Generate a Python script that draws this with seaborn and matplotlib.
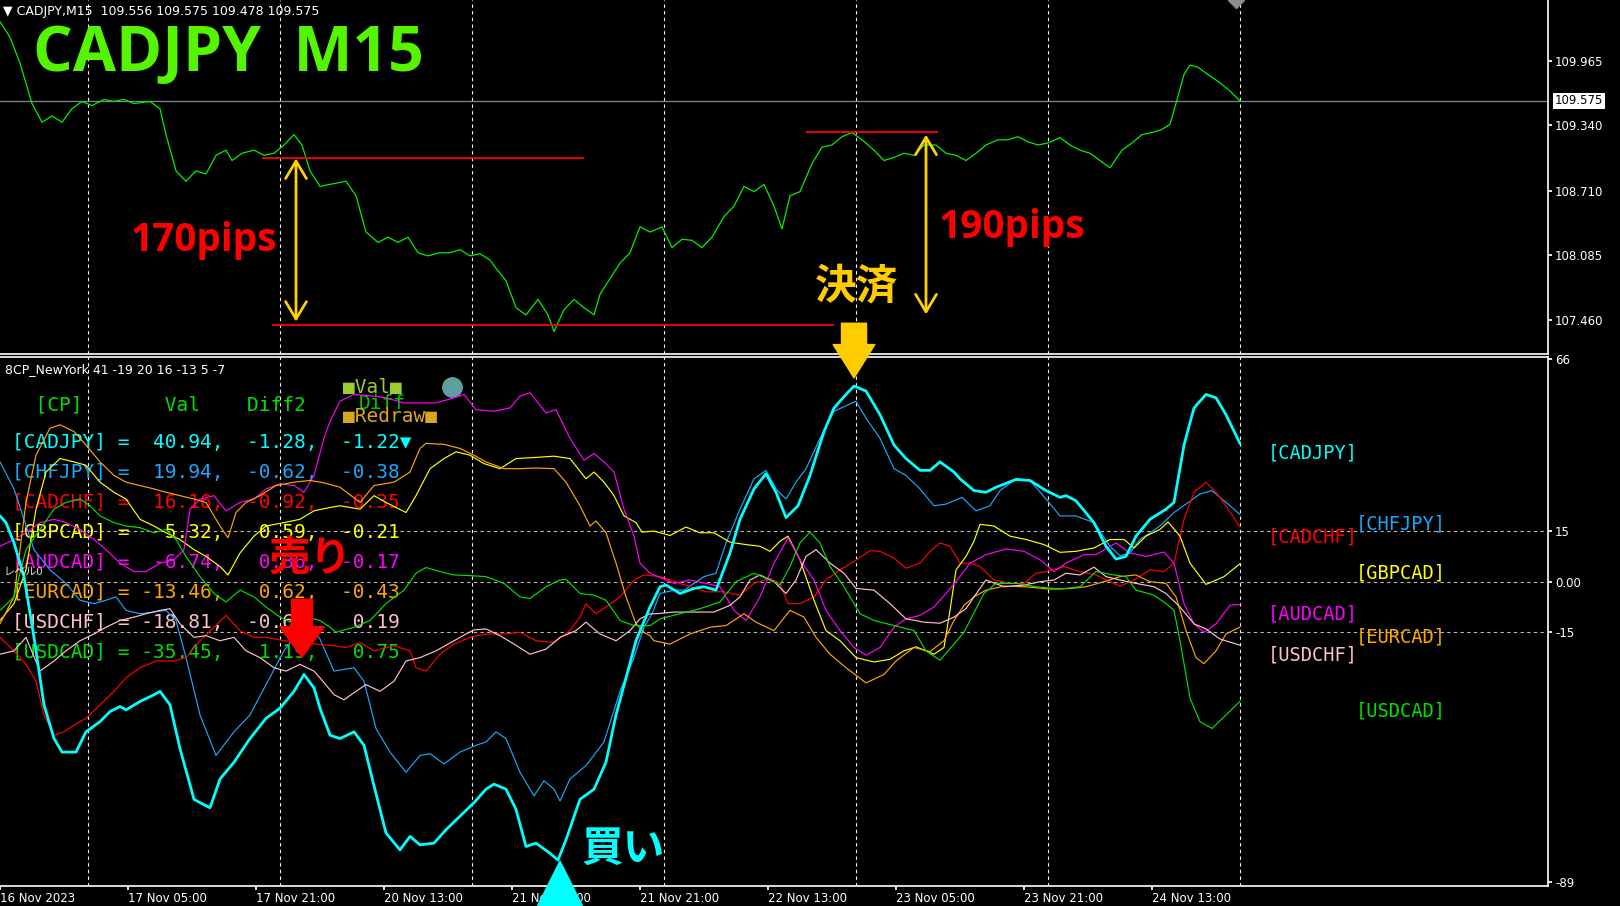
import pandas as pd
import seaborn as sns
import matplotlib.pyplot as plt
from matplotlib.transforms import blended_transform_factory

sns.set_theme(style="dark")
plt.rcParams['font.family'] = ['DejaVu Sans', 'Noto Sans CJK JP']

# x axis counted in M15 bars from 16 Nov 2023 13:00
tick_bars = [0, 64, 128, 192, 256, 320, 384, 448, 512, 576]
tick_labels = ['16 Nov 2023', '17 Nov 05:00', '17 Nov 21:00', '20 Nov 13:00', '21 Nov 05:00',
               '21 Nov 21:00', '22 Nov 13:00', '23 Nov 05:00', '23 Nov 21:00', '24 Nov 13:00']
day_bars = [44, 140, 236, 332, 428, 524, 620]

# upper pane: CADJPY M15 close
price_ticks = [109.965, 109.340, 108.710, 108.085, 107.460]
last_price = 109.575
price_path = [
    (0, 110.34), (5, 110.19), (10, 109.94), (16, 109.55), (21, 109.37), (26, 109.43), (31, 109.37),
    (36, 109.50), (41, 109.57), (46, 109.53), (52, 109.59), (57, 109.57), (62, 109.59), (67, 109.55),
    (75, 109.57), (80, 109.50), (83, 109.25), (88, 108.90), (93, 108.80), (98, 108.90), (103, 108.87),
    (108, 109.05), (113, 109.10), (116, 109.00), (121, 109.07), (127, 109.10), (132, 109.05),
    (137, 109.07), (142, 109.15), (147, 109.25), (151, 109.15), (155, 108.90), (160, 108.75),
    (165, 108.77), (173, 108.80), (178, 108.66), (183, 108.31), (189, 108.21), (194, 108.26),
    (199, 108.21), (204, 108.26), (209, 108.11), (214, 108.08), (220, 108.11), (225, 108.11),
    (230, 108.14), (235, 108.08), (240, 108.10), (245, 108.04), (248, 107.96), (253, 107.84),
    (258, 107.58), (263, 107.51), (269, 107.66), (274, 107.51), (277, 107.35), (282, 107.56),
    (287, 107.66), (292, 107.58), (297, 107.51), (300, 107.71), (305, 107.86), (310, 108.01),
    (315, 108.11), (320, 108.36), (325, 108.31), (331, 108.36), (336, 108.16), (341, 108.24),
    (346, 108.23), (351, 108.16), (356, 108.26), (362, 108.46), (367, 108.56), (372, 108.75),
    (377, 108.70), (382, 108.77), (387, 108.56), (391, 108.34), (395, 108.66), (400, 108.70),
    (406, 108.97), (411, 109.13), (416, 109.15), (421, 109.23), (426, 109.27), (431, 109.20),
    (437, 109.10), (442, 109.00), (447, 109.03), (452, 109.07), (457, 109.05), (462, 109.15),
    (468, 109.15), (473, 109.07), (478, 109.05), (483, 109.00), (488, 109.07), (493, 109.15),
    (499, 109.20), (504, 109.20), (509, 109.23), (514, 109.18), (519, 109.15), (524, 109.17),
    (530, 109.22), (535, 109.15), (540, 109.10), (545, 109.07), (550, 109.00), (555, 108.93),
    (561, 109.10), (566, 109.17), (571, 109.25), (576, 109.27), (581, 109.30), (585, 109.35),
    (588, 109.55), (592, 109.83), (595, 109.92), (599, 109.90), (604, 109.83), (610, 109.75),
    (615, 109.67), (620, 109.575)]

# lower pane: 8CP currency pair strength
cs_ticks = [66, 15, 0, -15, -89]
cs_tick_labels = ['66', '15', '0.00', '-15', '-89']
levels = [15, 0, -15]

cadjpy = [
    (0, 19.5), (3, 17.5), (7, 11.5), (12, 1.5), (17, -16.5), (22, -36.5), (27, -46.5), (31, -50.5),
    (38, -50.5), (43, -44.5), (50, -41.5), (55, -38.5), (60, -37), (63, -38), (70, -35.5), (77, -33.5),
    (80, -32.5), (85, -36.5), (90, -49.5), (97, -64.5), (100, -65.5), (105, -67), (110, -58.5),
    (117, -53.5), (125, -46.5), (133, -40.5), (140, -37.5), (147, -32.5), (152, -27.5), (157, -31.5),
    (160, -37.5), (165, -45.5), (170, -46.5), (177, -44.5), (182, -48.5), (187, -60.5), (193, -74.5),
    (200, -79.5), (205, -75.5), (210, -78), (217, -77.5), (223, -73.5), (230, -69.5), (237, -65.5),
    (243, -61.5), (247, -60), (253, -61.5), (258, -67.5), (263, -78.5), (268, -77.5), (275, -80.5),
    (279, -82.5), (283, -76.5), (290, -64.5), (297, -61.5), (303, -53.5), (308, -39.5), (313, -28.5),
    (318, -17.5), (325, -7.5), (330, -1.5), (333, -1), (340, -3.5), (347, -2), (352, -1.5),
    (358, -2.5), (365, 8.5), (370, 18.5), (377, 27.5), (383, 32), (388, 26.5), (393, 19), (399, 22.5),
    (405, 31.5), (412, 44.5), (417, 51.5), (423, 55.5), (427, 58), (433, 56.5), (440, 49.5),
    (447, 40.5), (453, 36.5), (460, 33), (465, 33), (470, 35.5), (477, 32.5), (480, 30.5), (487, 27),
    (493, 26.5), (498, 28), (508, 30.3), (515, 30), (523, 27), (530, 25), (533, 25.5), (538, 24),
    (547, 17.5), (553, 10.5), (558, 6.7), (563, 7.5), (568, 13.5), (575, 18.5), (583, 21.5),
    (587, 23.5), (592, 40.5), (597, 51.5), (603, 55.5), (608, 54.5), (613, 49.5), (620, 40.94)]
chfjpy = [
    (0, 35.5), (7, 27.5), (12, 18.5), (17, 9.5), (25, 3.5), (33, -0.5), (40, -5.5), (47, -6.5),
    (53, -5.5), (58, -4.5), (63, -8.5), (70, -9.5), (77, -9), (83, -8.5), (88, -11.5), (93, -22.5),
    (100, -39.5), (108, -51.5), (117, -44.5), (125, -39.5), (133, -30.5), (142, -20.5), (147, -16.5),
    (153, -11.5), (160, -17), (167, -26.5), (177, -25.5), (182, -29.5), (188, -43.5), (195, -50.5),
    (203, -56.5), (210, -51.5), (215, -51), (222, -54), (230, -50.5), (238, -48.5), (243, -47.5),
    (248, -44.5), (253, -46.5), (260, -56.5), (267, -63.5), (272, -59), (277, -61.5), (280, -65),
    (285, -58.5), (293, -54.5), (302, -47.5), (310, -32.5), (317, -22.5), (322, -13.5), (326, -9.5),
    (330, -3.5), (337, -2.5), (342, -2.5), (352, 1.5), (358, 2.5), (363, 11.5), (370, 21.5),
    (377, 30.5), (383, 33), (388, 27.5), (393, 24.5), (398, 29.5), (403, 33.5), (410, 42.5),
    (417, 50.5), (428, 53.5), (433, 48.5), (440, 42.5), (447, 33.5), (453, 31.5), (460, 27.5),
    (467, 22.5), (473, 23), (481, 25), (488, 21), (495, 22.5), (500, 27), (508, 30.5), (515, 30),
    (523, 24.5), (530, 19.5), (538, 19.5), (547, 17.5), (555, 10.5), (560, 7.7), (565, 8.5),
    (570, 12.5), (580, 16.5), (587, 20.5), (593, 23), (600, 26), (606, 27), (613, 23.5), (620, 19.94)]
cadchf = [
    (0, -16.5), (7, -20.5), (13, -24.5), (18, -29.5), (22, -39.5), (27, -45.5), (32, -44.5),
    (37, -42.5), (43, -40.5), (50, -36.5), (57, -32.5), (63, -28.5), (70, -25.5), (78, -23.5),
    (87, -23.5), (93, -22.5), (100, -17.5), (107, -13.5), (113, -10), (120, -14.5), (127, -16.5),
    (133, -16.5), (142, -17.5), (150, -18), (158, -18.5), (167, -19), (173, -19.5), (180, -18),
    (187, -20.5), (197, -19), (205, -20.5), (208, -25.5), (213, -26.5), (220, -21.5), (227, -18.5),
    (235, -16.5), (243, -15.5), (252, -15.5), (260, -15), (268, -17.5), (277, -18), (285, -14.5),
    (290, -10.5), (293, -6.5), (298, -9.5), (303, -7.5), (310, -4.5), (317, 0.5), (322, 2),
    (330, 1.5), (340, -0.5), (353, -3), (362, -3), (370, -4), (377, -0.5), (385, 1), (390, -0.5),
    (394, -6.5), (400, -6.5), (407, -4.5), (413, 0.5), (420, 3.5), (427, 6), (435, 9.2), (440, 9),
    (447, 7), (453, 4), (460, 5.5), (465, 9), (470, 11.5), (475, 10.5), (480, 5.5), (485, 5.5),
    (490, 4.5), (497, 0.5), (505, -0.5), (512, -0.5), (518, 2.5), (523, 3), (532, 4.5), (540, 3),
    (548, 2), (555, 0), (560, -1.3), (567, 0.5), (575, 3.5), (582, 3), (587, 5.5), (592, 18.5),
    (597, 26.5), (603, 29.5), (608, 26.5), (613, 22.5), (620, 16.16)]
gbpcad = [
    (0, -11.5), (7, -6.5), (13, 3.5), (18, 21.5), (23, 32.5), (30, 36.5), (37, 35.5), (43, 34.5),
    (50, 29.5), (57, 26.5), (63, 24.5), (70, 18.5), (77, 16.5), (83, 14.5), (90, 12.5), (97, 9.5),
    (103, 7.5), (110, 4.5), (114, 2), (120, 8.5), (127, 13.5), (133, 16.5), (142, 17.5), (150, 18.5),
    (157, 21), (165, 22), (170, 22.5), (180, 21.5), (187, 25.5), (193, 23.5), (203, 20.5),
    (208, 25.5), (215, 33.5), (222, 36.5), (228, 38.5), (235, 37.5), (242, 35), (250, 33.5),
    (258, 36.5), (267, 36.8), (277, 37.2), (285, 36.5), (293, 30.5), (297, 32.5), (302, 29.5),
    (307, 25.5), (312, 19.5), (318, 17.5), (321, 14.7), (327, 15), (335, 13.7), (343, 16.2),
    (350, 14.5), (357, 14.5), (365, 11.7), (373, 11), (380, 10.5), (385, 9), (390, 12), (394, 13.5),
    (400, 6.5), (407, -5.5), (413, -14.5), (420, -17.5), (428, -22.5), (437, -23.8), (445, -23),
    (452, -20.5), (458, -19.3), (467, -21.5), (472, -19.5), (475, -8.5), (478, 3.5), (483, 7.5),
    (487, 12), (490, 17), (497, 16.5), (505, 13.5), (513, 12.5), (522, 11), (530, 8.7), (538, 9),
    (547, 10), (555, 12.5), (562, 12.5), (567, 10), (573, 13.5), (580, 15.5), (584, 17.7),
    (590, 13.5), (595, 5.5), (603, -0.8), (612, 1.5), (620, 5.32)]
audcad = [
    (0, 10.5), (7, 12.5), (13, 14.5), (20, 17.5), (27, 18.5), (33, 17.5), (40, 15.5), (47, 12.5),
    (53, 9.5), (60, 5.5), (67, 3), (73, 3), (80, 5.5), (87, 6.5), (92, 9.5), (95, 21.5), (100, 24.5),
    (107, 25.5), (113, 21), (120, 23.5), (127, 24.5), (133, 27.5), (140, 29), (147, 28.5),
    (152, 26.5), (157, 31.5), (162, 42.5), (165, 47.5), (170, 53.5), (177, 55.5), (187, 55),
    (193, 54.5), (202, 53), (210, 53), (218, 53), (227, 54.5), (232, 55.5), (238, 51), (247, 50.5),
    (255, 51.5), (260, 55), (265, 56), (273, 50), (278, 51), (285, 42.5), (292, 36), (297, 38),
    (302, 35.5), (307, 32.5), (312, 21.5), (317, 13.5), (320, 5.5), (325, 2.5), (327, 2),
    (337, -0.5), (345, 0.5), (353, -0.5), (360, -1.5), (367, -8.5), (373, -11.5), (380, -4.5),
    (387, 5.5), (394, 13), (400, 6.5), (407, 0.5), (413, -8.5), (420, -14.5), (427, -19.5),
    (433, -21.8), (440, -19.5), (447, -13.5), (453, -11), (460, -10), (467, -7.5), (473, -3.5),
    (480, 1.5), (485, 5.5), (493, 8), (503, 9.7), (512, 9), (520, 6.5), (527, 3), (533, 5.5),
    (542, 8), (548, 8), (558, 11.5), (565, 8.5), (573, 7.5), (582, 8.8), (587, 5.5), (592, -6.5),
    (597, -12.5), (602, -15), (608, -12.5), (615, -7), (620, -6.74)]
eurcad = [
    (0, -12.5), (7, -4.5), (13, 23.5), (18, 37.5), (25, 45.5), (30, 46.5), (37, 44.5), (43, 40.5),
    (50, 35.5), (57, 31.5), (63, 29.5), (70, 28.5), (77, 27.5), (83, 26.5), (90, 25.5), (97, 24.5),
    (103, 23.5), (110, 16.5), (114, 13), (118, 20.5), (123, 23.5), (130, 25.5), (138, 28.5),
    (147, 29.5), (155, 30), (162, 29.3), (170, 28), (180, 23.5), (187, 28.5), (197, 29.5),
    (205, 32.5), (210, 39.5), (213, 41), (222, 40.7), (230, 39.5), (237, 37.5), (243, 35.5),
    (252, 33.5), (260, 33.5), (268, 33.7), (277, 33.5), (283, 29.5), (290, 22.5), (295, 16.5),
    (298, 18), (303, 14.5), (308, 5.5), (313, -4.5), (318, -12.5), (322, -15), (325, -16),
    (327, -17.5), (335, -18.5), (345, -15.5), (355, -13.5), (363, -13), (372, -9.5), (378, -12),
    (387, -14.5), (395, -8.5), (402, -10.5), (408, -16.5), (415, -21.5), (423, -25.5), (433, -30),
    (442, -27.5), (448, -23.5), (457, -19.5), (465, -20.7), (472, -17.5), (477, -11.5), (482, -7),
    (487, -4.5), (493, -2.5), (502, -1.3), (513, -1.5), (525, -2.2), (535, -2), (543, -1.5),
    (552, 0), (560, 1.5), (568, 2), (575, 0), (583, -0.5), (588, -4.5), (593, -14.5), (598, -22.5),
    (602, -24.3), (608, -20.5), (613, -15.5), (620, -13.46)]
usdchf = [
    (0, -21.5), (7, -20.5), (13, -16.5), (20, -26.5), (27, -23.5), (33, -20.5), (40, -17.5),
    (47, -15.5), (53, -13.5), (60, -11.5), (67, -10.5), (73, -9.5), (80, -8.5), (85, -8),
    (90, -12.5), (97, -16.5), (103, -16), (110, -17.5), (117, -16.5), (123, -20.5), (130, -22.5),
    (137, -25.5), (143, -26.5), (150, -24.5), (157, -26.5), (160, -28.5), (167, -33.5), (172, -35),
    (178, -32.5), (183, -30.5), (190, -32.5), (197, -29.5), (203, -23.5), (210, -22.5), (218, -20.5),
    (227, -17.5), (233, -15.5), (237, -14.3), (243, -14), (250, -16), (257, -18.5), (265, -21.5),
    (273, -20), (280, -16.5), (288, -14.5), (293, -12), (300, -15.5), (308, -17.5), (315, -14.5),
    (320, -11), (325, -9.5), (328, -9.5), (337, -9), (347, -9), (357, -9), (365, -7), (370, -4.5),
    (375, 0.5), (380, 2), (387, 0), (393, -3.5), (398, 0.5), (403, 7.5), (408, 9.5), (415, 5.5),
    (422, 2.5), (428, -2), (437, -2.5), (445, -6.5), (453, -11), (462, -12), (470, -12.3),
    (477, -10.5), (483, -8), (487, -4.5), (493, 0.5), (502, -1.5), (512, -1), (520, 0), (527, 0.5),
    (533, 2.5), (540, 2), (547, 4.3), (553, 1.5), (560, 0.5), (568, -0.5), (577, -1.5), (583, -3.5),
    (590, -7.5), (597, -12.5), (603, -14), (610, -17), (620, -18.81)]
usdcad = [
    (0, -8.5), (7, -4.5), (13, 9.5), (20, 15.5), (27, 21.5), (33, 23.5), (40, 24.5), (45, 22.5),
    (50, 19.5), (57, 17.5), (63, 16.5), (70, 16), (77, 14.5), (83, 15.5), (88, 12.5), (93, 7.5),
    (100, 1.5), (107, -3.5), (113, -6), (120, -2.5), (127, -4.5), (133, -7.5), (140, -10.5),
    (147, -12.5), (153, -10.5), (160, -11.5), (165, -13.5), (168, -15), (177, -13.5), (185, -11.5),
    (193, -6.5), (202, -2.5), (208, 2.5), (213, 4.2), (220, 3), (227, 2), (235, 1.8), (243, 1.5),
    (252, -0.5), (260, -4.5), (265, -5), (273, -1.5), (280, 0.5), (283, 0.7), (290, -3.5), (297, -4),
    (303, -5.5), (310, -11.5), (317, -13), (325, -13), (330, -11), (340, -9.5), (350, -8), (360, -6),
    (368, 0), (377, 2.5), (383, 1), (390, -1), (395, 4.5), (400, 11.5), (405, 14.7), (410, 11.5),
    (415, 4.5), (422, -1.5), (430, -9.5), (437, -11.5), (447, -13), (457, -14.5), (463, -20.5),
    (470, -23.3), (477, -18.5), (482, -15), (485, -11.5), (492, -3.5), (498, -0.5), (508, -0.5),
    (518, -1.5), (530, -2.2), (540, -1.5), (548, 3), (557, 2), (563, 1.5), (568, -2.5), (577, -4),
    (583, -6.5), (587, -8.5), (590, -17.5), (595, -34.5), (600, -41.5), (606, -43.5), (613, -39.5),
    (620, -35.45)]

pairs = ['CADJPY', 'CHFJPY', 'CADCHF', 'GBPCAD', 'AUDCAD', 'EURCAD', 'USDCHF', 'USDCAD']
pair_series = [cadjpy, chfjpy, cadchf, gbpcad, audcad, eurcad, usdchf, usdcad]
pair_colors = ['#00FFFF', '#18A8FF', '#FF0000', '#FFFF00', '#FF00FF', '#FFA500', '#FFC0CB', '#00E000']
table_val = [40.94, 19.94, 16.16, 5.32, -6.74, -13.46, -18.81, -35.45]
table_diff2 = [-1.28, -0.62, -0.92, 0.59, 0.36, 0.62, -0.61, 1.19]
table_diff = [-1.22, -0.38, -0.35, -0.21, -0.17, -0.43, 0.19, 0.75]

# hand drawn marks on the chart
red_levels = [(131, 292, 109.02), (136, 417, 107.415), (403, 469, 109.28)]
pip_arrows = [(148, 109.02, 107.445), (463, 109.25, 107.515)]
pip_texts = [('170pips', 102, 108.23), ('190pips', 506, 108.35)]

BG = 'black'
fig = plt.figure(figsize=(16.2, 9.06), dpi=100, facecolor=BG)
ax1 = fig.add_axes([0, 1 - 354 / 906, 1548 / 1620, 354 / 906])
ax2 = fig.add_axes([0, 1 - 886 / 906, 1548 / 1620, 529 / 906])
for ax in (ax1, ax2):
    ax.set_facecolor(BG)
    ax.grid(False)
    for side in ('left', 'top', 'right', 'bottom'):
        ax.spines[side].set_color('white')
        ax.spines[side].set_linewidth(1.2)
    ax.spines['left'].set_visible(False)
    ax.set_xlim(0, 774)
    for b in day_bars:
        ax.axvline(b, color='white', lw=0.8, ls=(0, (3, 3)), zorder=1)
ax1.spines['top'].set_visible(False)

# ---- price pane
price_df = pd.DataFrame(price_path, columns=['bar', 'price'])
sns.lineplot(data=price_df, x='bar', y='price', ax=ax1, color='#00F000', lw=0.9, zorder=3)
ax1.set_ylim(107.133, 110.549)
ax1.axhline(last_price, color='#7A8796', lw=0.9, zorder=2)
ax1.set_xticks([])
ax1.set_yticks(price_ticks)
ax1.set_yticklabels([f'{t:.3f}' for t in price_ticks])
ax1.tick_params(axis='y', left=False, labelleft=False, right=True, labelright=True,
                colors='white', labelsize=8.5, length=3, pad=2)
ax1.set_xlabel('')
ax1.set_ylabel('')
bt = blended_transform_factory(ax1.transAxes, ax1.transData)
ax1.text(1.0045, last_price, f'{last_price:.3f}', transform=bt, ha='left', va='center',
         fontsize=8.5, color='black', clip_on=False,
         bbox=dict(facecolor='white', edgecolor='none', pad=1.2))

ax1.text(0.002, 0.968, '\u25bc CADJPY,M15  109.556 109.575 109.478 109.575',
         transform=ax1.transAxes, color='white', fontsize=9, va='center')
ax1.text(0.021, 0.845, 'CADJPY  M15', transform=ax1.transAxes, color='#55F500',
         fontsize=45, fontweight='bold', family='Open Sans', va='center')
ax1.plot(day_bars[-1] - 2, 1.0, marker='D', ms=8, color='#8C8C8C',
         transform=blended_transform_factory(ax1.transData, ax1.transAxes), clip_on=False)

for x0, x1, y in red_levels:
    ax1.hlines(y, x0, x1, color='#FF0000', lw=1.3, zorder=4)
for x, ytop, ybot in pip_arrows:
    ax1.annotate('', xy=(x, ybot), xytext=(x, ytop),
                 arrowprops=dict(arrowstyle='<->,head_length=0.5,head_width=0.3', color='#FFD000',
                                 lw=2, mutation_scale=25, shrinkA=0, shrinkB=0), zorder=5)
for label, x, y in pip_texts:
    ax1.text(x, y, label, color='#FF0000', fontsize=28, fontweight='bold', family='Open Sans',
             ha='center', va='center', zorder=6)
ax1.text(428, 107.78, '決済', color='#FFCC00', fontsize=30, fontweight='bold',
         family='Noto Sans CJK JP', ha='center', va='center', zorder=6)

# ---- strength pane
for lv in levels:
    ax2.axhline(lv, color='#BBBBBB', lw=0.8, ls=(0, (3, 3)), zorder=1)
order = list(range(1, len(pairs))) + [0]
for i in order:
    df = pd.DataFrame(pair_series[i], columns=['bar', 'value'])
    sns.lineplot(data=df, x='bar', y='value', ax=ax2, color=pair_colors[i],
                 lw=2.0 if i == 0 else 0.85, zorder=3)
ax2.set_ylim(-90.2, 66.6)
ax2.set_xlabel('')
ax2.set_ylabel('')
ax2.set_yticks(cs_ticks)
ax2.set_yticklabels(cs_tick_labels)
ax2.tick_params(axis='y', left=False, labelleft=False, right=True, labelright=True,
                colors='white', labelsize=8.5, length=3, pad=2)
ax2.set_xticks(tick_bars)
ax2.set_xticklabels(tick_labels, ha='left')
ax2.tick_params(axis='x', bottom=True, colors='white', labelsize=8.5, length=3, pad=1)

ax2.text(0.003, 0.977, '8CP_NewYork 41 -19 20 16 -13 5 -7', transform=ax2.transAxes,
         color='white', fontsize=9, va='center')
ax2.text(0.002, 0.5936, 'レベル0', transform=ax2.transAxes, color='#DDDDDD', fontsize=8,
         family='Noto Sans CJK JP', va='center')

mono = ['DejaVu Sans Mono', 'DejaVu Sans']
row0, row_step = 0.8375, 0.0566
ax2.text(0.008, 0.909, '  [CP]' + ' ' * 7 + 'Val' + ' ' * 4 + 'Diff2', transform=ax2.transAxes,
         color='#00E000', fontsize=14, family=mono, va='center', zorder=2)
for i, p in enumerate(pairs):
    row = f'[{p}] = {table_val[i]:6.2f}, {table_diff2[i]:6.2f}, {table_diff[i]:6.2f}'
    if i == 0:
        row += '\u25bc'
    ax2.text(0.008, row0 - row_step * i, row, transform=ax2.transAxes, color=pair_colors[i],
             fontsize=14, family=mono, va='center', zorder=2)

ax2.text(0.2216, 0.943, '\u25a0Val\u25a0', transform=ax2.transAxes, color='#9ACD32',
         fontsize=14, family=mono, va='center', zorder=2)
ax2.text(0.2316, 0.913, 'Diff', transform=ax2.transAxes, color='#00C800',
         fontsize=14, family=mono, va='center', zorder=2)
ax2.text(0.2216, 0.8866, '\u25a0Redraw\u25a0', transform=ax2.transAxes, color='#DAA520',
         fontsize=14, family=mono, va='center', zorder=2)
ax2.plot(0.292, 0.943, marker='o', ms=14, color='#5F9EA0', transform=ax2.transAxes, zorder=2)

# right side pair names, hung from the last value
last_bar = pair_series[0][-1][0]
for i, p in enumerate(pairs):
    x = last_bar + (14 if i % 2 == 0 else 58)
    ax2.text(x, pair_series[i][-1][1], f'[{p}]', color=pair_colors[i], fontsize=13.5,
             family=mono, ha='left', va='top', zorder=4)

# signals
arrow = 'simple,head_length=1.1,head_width=1.6,tail_width=0.75'
ax2.text(155, 6.7, '売り', color='#FF0000', fontsize=30, fontweight='bold',
         family='Noto Sans CJK JP', ha='center', va='center', zorder=6)
ax2.annotate('', xy=(151, -22.4), xytext=(151, -5.2),
             arrowprops=dict(arrowstyle=arrow, color='#FF0000', mutation_scale=20,
                             shrinkA=0, shrinkB=0), zorder=6)
ax2.annotate('', xy=(427, 60.4), xytext=(427, 107.43), textcoords=ax1.transData,
             arrowprops=dict(arrowstyle='simple,head_length=1.2,head_width=1.5,tail_width=0.9',
                             color='#FFCC00', mutation_scale=20, shrinkA=0, shrinkB=0),
             annotation_clip=False, zorder=6)
ax2.annotate('', xy=(280, -82.8), xytext=(280, -97),
             arrowprops=dict(arrowstyle='simple,head_length=1.6,head_width=1.6,tail_width=0.75',
                             color='#00FFFF', mutation_scale=20, shrinkA=0, shrinkB=0),
             annotation_clip=False, zorder=6)
ax2.text(311.5, -79.2, '買い', color='#00FFFF', fontsize=30, fontweight='bold',
         family='Noto Sans CJK JP', ha='center', va='center', zorder=6)

fig.savefig('out.png', dpi=100, facecolor=BG)
